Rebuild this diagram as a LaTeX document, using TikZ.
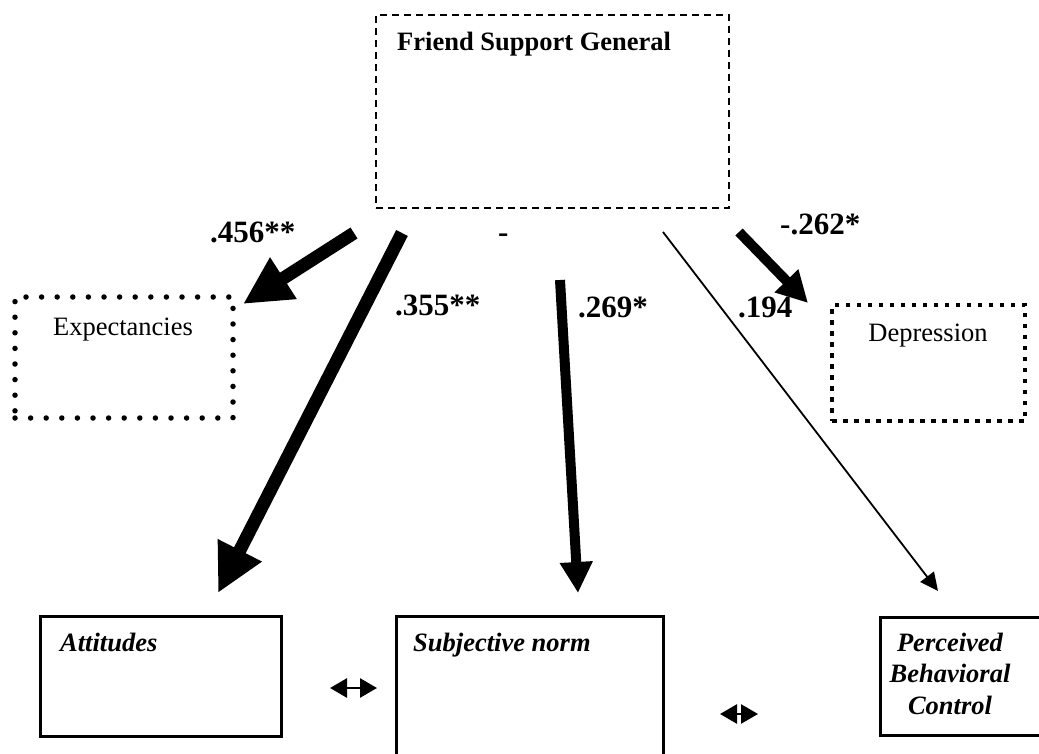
\documentclass[tikz,border=0pt]{standalone}
\usepackage{fontspec}
\setmainfont{Liberation Serif}
\usetikzlibrary{arrows.meta}
\begin{document}
\begin{tikzpicture}[x=1pt,y=-1pt,
  boxtext/.style={inner sep=0pt,font=\fontsize{26.5}{31.5}\selectfont},
  coef/.style={inner sep=0pt,font=\fontsize{31}{36}\selectfont\bfseries},
  dashbox/.style={draw,line width=1.6pt,dash pattern=on 7pt off 5pt,minimum width=353pt,minimum height=193pt,inner sep=0pt},
  roundbox/.style={draw,line width=5.5pt,line cap=round,dash pattern=on 0pt off 15.6pt,inner sep=0pt},
  squarebox/.style={draw,line width=4.5pt,dash pattern=on 4.5pt off 6.5pt,inner sep=0pt},
  solidbox/.style={draw,line width=3pt,inner sep=0pt},
  bigarrow/.style={line width=13pt,-{Triangle[length=48pt,width=46pt]}},
  midarrow/.style={line width=10pt,-{Triangle[length=31pt,width=31pt]}},
  thinarrow/.style={line width=1.8pt,-{Triangle[length=18pt,width=17pt]}},
  twoway/.style={line width=2.6pt,{Triangle[length=17pt,width=19pt]}-{Triangle[length=17pt,width=19pt]}}]
\useasboundingbox (0,0) rectangle (1039,754);
% boxes
\node[dashbox] (fsg) at (552.5,111.5) {};
\node[boxtext,anchor=base west,font=\fontsize{26.5}{31.5}\selectfont\bfseries] (fsgt) at (397,51) {Friend Support General};
\node[roundbox,minimum width=218pt,minimum height=121pt] (exp) at (124,357.5) {};
\node[boxtext,anchor=base] (expt) at (123,335) {Expectancies};
\node[squarebox,minimum width=193pt,minimum height=116pt] (dep) at (928.5,363) {};
\node[boxtext,anchor=base] (dept) at (928,341) {Depression};
\node[solidbox,minimum width=241pt,minimum height=120pt] (att) at (160.5,676) {};
\node[boxtext,anchor=base west,font=\fontsize{26.5}{31.5}\selectfont\bfseries\itshape] (attt) at (60,651) {Attitudes};
\node[solidbox,minimum width=267pt,minimum height=180pt] (sn) at (529.5,706) {};
\node[boxtext,anchor=base west,font=\fontsize{26.5}{31.5}\selectfont\bfseries\itshape] (snt) at (413,651) {Subjective norm};
\node[solidbox,minimum width=190pt,minimum height=118pt] (pbc) at (975,676) {};
\node[boxtext,anchor=base,align=center,font=\fontsize{26.5}{31.5}\selectfont\bfseries\itshape] (pbct) at (950,714) {Perceived\\Behavioral\\Control};
% arrow end points
\coordinate (t1) at (354,233);
\coordinate (h1) at (243,304);
\coordinate (t2) at (402,233);
\coordinate (h2) at (218,593);
\coordinate (t3) at (560,280);
\coordinate (h3) at (578,593);
\coordinate (t4) at (739,232);
\coordinate (h4) at (808,303);
\coordinate (t5) at (663,232);
\coordinate (h5) at (938,591);
\coordinate (d1a) at (330,688);
\coordinate (d1b) at (377,688);
\coordinate (d2a) at (720,714);
\coordinate (d2b) at (758,714);
\draw[bigarrow] (t1) -- (h1);
\draw[bigarrow] (t2) -- (h2);
\draw[midarrow] (t3) -- (h3);
\draw[midarrow] (t4) -- (h4);
\draw[thinarrow] (t5) -- (h5);
\draw[twoway] (d1a) -- (d1b);
\draw[twoway] (d2a) -- (d2b);
% coefficients
\node[coef,anchor=base west] (c1) at (210,243) {.456**};
\node[coef,anchor=base west] (c2) at (395,315) {.355**};
\node[coef,anchor=base west] (c3) at (578,317) {.269*};
\node[coef,anchor=base west] (c4) at (738,317) {.194};
\node[coef,anchor=base west] (c5) at (780,235) {-.262*};
\node[coef,anchor=base west] (c6) at (498,243) {-};
\end{tikzpicture}
\end{document}
